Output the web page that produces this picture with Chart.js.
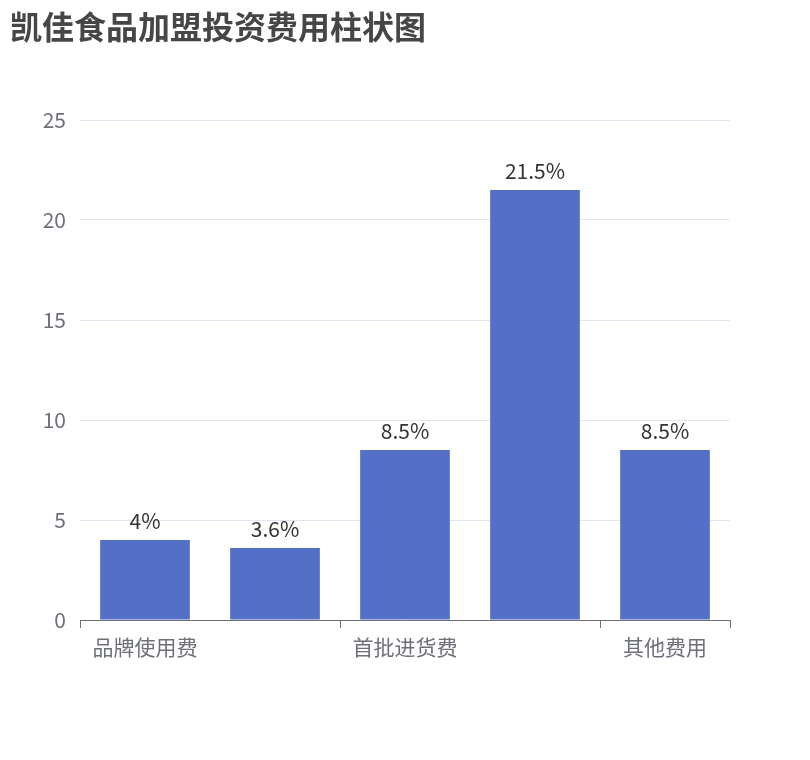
<!DOCTYPE html>
<html><head><meta charset="utf-8">
<script src="https://cdn.jsdelivr.net/npm/chart.js@4/dist/chart.umd.min.js"></script>
<style>body{margin:0;background:#fff}#w{width:810px;height:760px}</style>
</head><body><div id="w"><canvas id="c"></canvas></div>
<script>
const titleText = '凯佳食品加盟投资费用柱状图';
const categories = ['品牌使用费','加盟保证金','首批进货费','店面装修费','其他费用'];
const values = [4, 3.6, 8.5, 21.5, 8.5];
const valueLabels = ['4%','3.6%','8.5%','21.5%','8.5%'];
const yTicks = [0,5,10,15,20,25];
const F = '"Noto Sans CJK SC","Noto Sans",sans-serif';
const plug = {
  id:'extra',
  afterDraw(ch){
    const g=ch.ctx; g.save();
    g.fillStyle='#464646'; g.font='bold 32px '+F; g.textBaseline='middle'; g.textAlign='left';
    g.fillText(titleText,10,27);
    const m=ch.getDatasetMeta(0);
    g.font='21px '+F; g.fillStyle='#333'; g.textAlign='center'; g.textBaseline='bottom';
    m.data.forEach((b,i)=>g.fillText(valueLabels[i],b.x,b.y-8));
    // x tick marks at boundaries every 2 categories + end
    const xs=ch.scales.x, a=ch.chartArea;
    const step=(a.right-a.left)/categories.length;
    g.strokeStyle='#6e7079'; g.lineWidth=1;
    [0,2,4,5].forEach(k=>{const x=Math.round(a.left+k*step)+0.5; g.beginPath(); g.moveTo(x,a.bottom); g.lineTo(x,a.bottom+8); g.stroke();});
    g.restore();
  }
};
new Chart(document.getElementById('c'),{
  type:'bar',
  data:{labels:categories,datasets:[{data:values,backgroundColor:'#5470c6',barPercentage:0.69,categoryPercentage:1}]},
  options:{responsive:true,maintainAspectRatio:false,animation:false,
    layout:{padding:{left:0,top:120,right:80,bottom:0}},
    plugins:{legend:{display:false},tooltip:{enabled:false}},
    scales:{
      y:{min:0,max:25,afterFit(s){s.width=80;},afterBuildTicks(s){s.ticks=yTicks.map(v=>({value:v}));},
        border:{display:false},grid:{color:'#e0e6f1',drawTicks:false},
        ticks:{color:'#6e7079',font:{size:21,family:F},padding:14}},
      x:{afterFit(s){s.height=140;},border:{color:'#6e7079'},grid:{display:false},
        ticks:{color:'#6e7079',font:{size:21,family:F},autoSkip:false,maxRotation:0,padding:6,
          callback:(v,i)=> i%2===0?categories[i]:''}}
    }},
  plugins:[plug]
});
</script></body></html>
